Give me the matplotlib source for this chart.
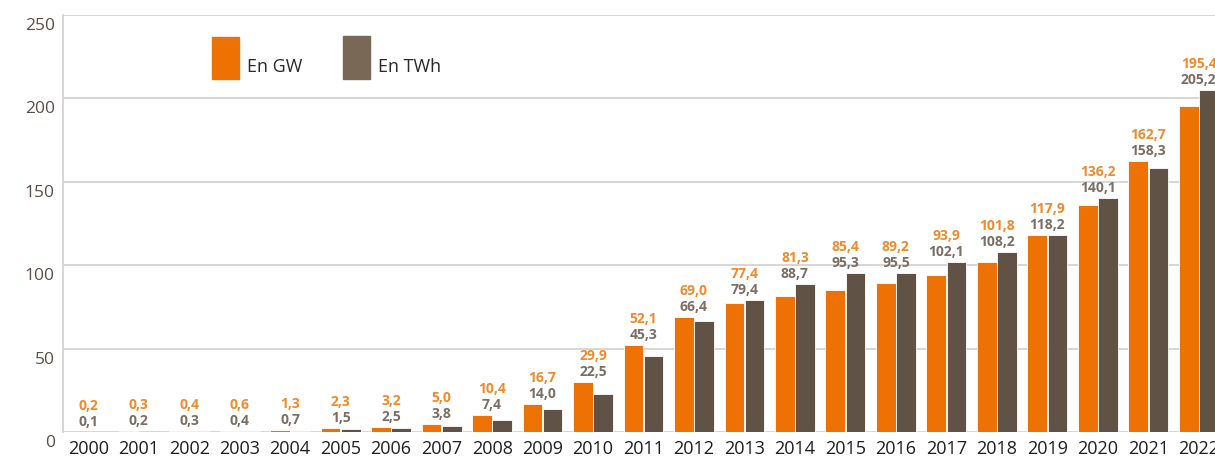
import matplotlib
matplotlib.use("Agg")
import matplotlib.pyplot as plt
import matplotlib.transforms as mtransforms
from matplotlib.patches import Rectangle
import numpy as np

plt.rcParams["font.family"] = ["Open Sans", "DejaVu Sans"]

years = [str(y) for y in range(2000, 2023)]
gw = [0.2, 0.3, 0.4, 0.6, 1.3, 2.3, 3.2, 5.0, 10.4, 16.7, 29.9, 52.1, 69.0,
      77.4, 81.3, 85.4, 89.2, 93.9, 101.8, 117.9, 136.2, 162.7, 195.4]
twh = [0.1, 0.2, 0.3, 0.4, 0.7, 1.5, 2.5, 3.8, 7.4, 14.0, 22.5, 45.3, 66.4,
       79.4, 88.7, 95.3, 95.5, 102.1, 108.2, 118.2, 140.1, 158.3, 205.2]
yticks = [0, 50, 100, 150, 200, 250]
legend_labels = ["En GW", "En TWh"]

ORANGE = "#EE7203"
BROWN = "#615246"
BROWN_LEG = "#7A6856"
ORANGE_TXT = "#F08A2A"
GRAY_TXT = "#7A6E65"
GRID = "#CFCFCF"
TICK = "#5A4E46"

W, H = 1215, 460
fig = plt.figure(figsize=(W / 100, H / 100), dpi=100)
ax_left, ax_right = 63, 1224
ax_top, ax_bot = 16, 433
ax = fig.add_axes([ax_left / W, (H - ax_bot) / H,
                   (ax_right - ax_left) / W, (ax_bot - ax_top) / H])

x = np.arange(len(years))
bw = 0.39
ax.bar(x - 0.2, gw, width=bw, color=ORANGE, edgecolor="white", linewidth=0.6, zorder=3)
ax.bar(x + 0.2, twh, width=bw, color=BROWN, edgecolor="white", linewidth=0.6, zorder=3)

ax.set_xlim(-0.5, len(years) - 0.5)
ax.set_ylim(0, 250)
ax.set_yticks(yticks)
ax.set_yticklabels([str(t) for t in yticks])
ax.set_xticks(x)
ax.set_xticklabels(years)
ax.grid(axis="y", color=GRID, linewidth=1.2, zorder=0)
ax.tick_params(axis="both", length=0)
ax.tick_params(axis="y", labelsize=12.5, labelcolor=TICK, pad=6)
ax.tick_params(axis="x", labelsize=13, labelcolor="#1E1E1E", pad=5)
for s in ["top", "right", "bottom"]:
    ax.spines[s].set_visible(False)
ax.spines["left"].set_color(GRID)
ax.spines["left"].set_linewidth(1.2)

# y tick labels sit a little below their gridlines
shift = mtransforms.ScaledTranslation(0, -8 / 100, fig.dpi_scale_trans)
for lab in ax.get_yticklabels():
    lab.set_transform(lab.get_transform() + shift)

def fmt(v):
    return f"{v:.1f}".replace(".", ",")

off1 = mtransforms.offset_copy(ax.transData, fig=fig, x=0, y=4, units="dots")
off2 = mtransforms.offset_copy(ax.transData, fig=fig, x=0, y=20, units="dots")
for xi, a, b in zip(x, gw, twh):
    top = max(a, b)
    ax.text(xi, top, fmt(b), transform=off1, ha="center", va="bottom",
            fontsize=10, fontweight="bold", color=GRAY_TXT)
    ax.text(xi, top, fmt(a), transform=off2, ha="center", va="bottom",
            fontsize=10, fontweight="bold", color=ORANGE_TXT)

# legend
fig.add_artist(Rectangle((212 / W, (H - 80) / H), 27 / W, 42 / H,
                         transform=fig.transFigure, color=ORANGE))
fig.text(247 / W, (H - 67) / H, legend_labels[0], fontsize=13, color="#2A2A2A", va="center")
fig.add_artist(Rectangle((343 / W, (H - 80) / H), 27 / W, 43 / H,
                         transform=fig.transFigure, color=BROWN_LEG))
fig.text(378 / W, (H - 67) / H, legend_labels[1], fontsize=13, color="#2A2A2A", va="center")

fig.savefig("out.png", dpi=100)
